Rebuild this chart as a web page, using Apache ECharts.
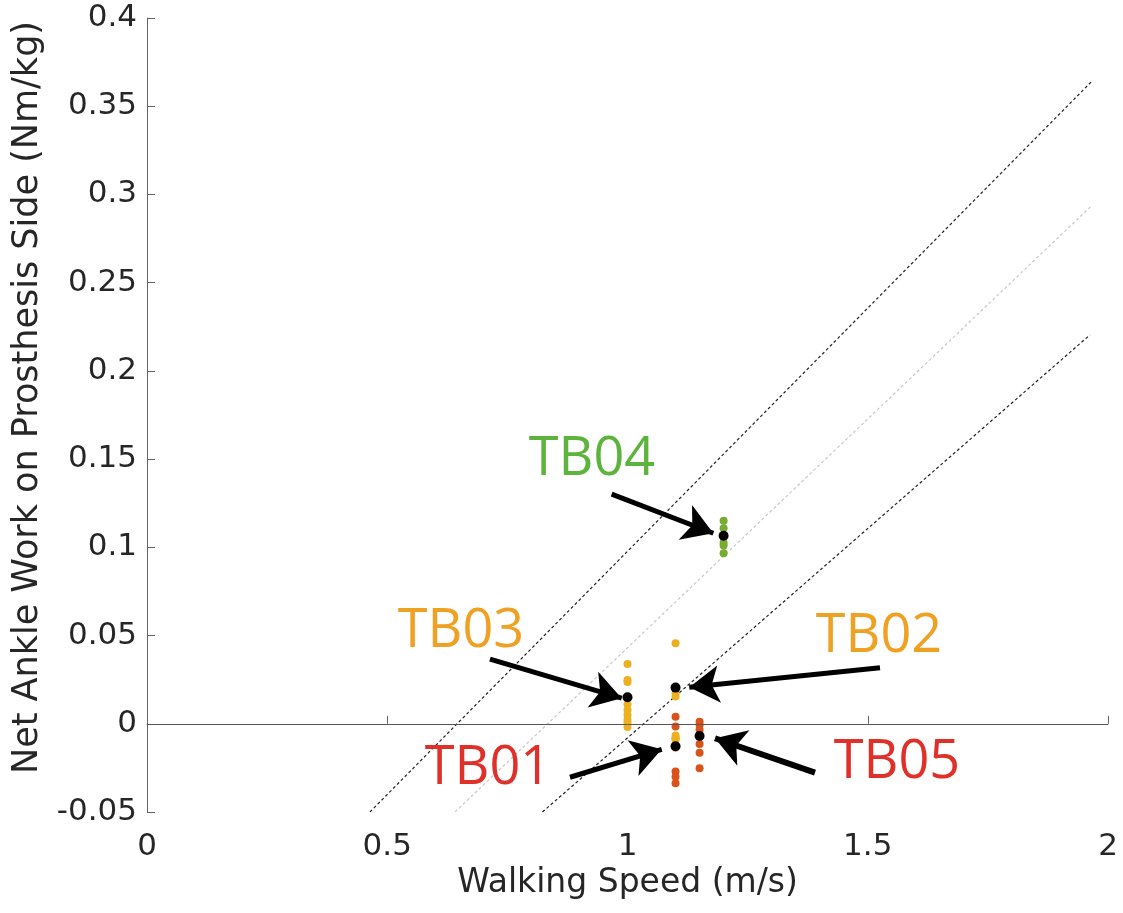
<!DOCTYPE html>
<html>
<head>
<meta charset="utf-8">
<script src="https://cdn.jsdelivr.net/npm/echarts@6/dist/echarts.min.js"></script>
<style>
html,body{margin:0;padding:0;background:#fff;}
#chart{width:1123px;height:913px;}
</style>
</head>
<body>
<div id="chart"></div>
<script>
// ---- data ----
const subjects = ['TB01', 'TB02', 'TB03', 'TB04', 'TB05'];
const speeds = [1.1, 1.1, 1.0, 1.2, 1.15];
const tb01Values = [0.004, -0.0016, -0.0082, -0.0135, -0.0271, -0.0300, -0.0337];
const tb02Values = [0.0456, 0.0175, 0.0154, -0.0066, -0.0090];
const tb03Values = [0.0339, 0.0248, 0.0237, 0.0110, 0.0078, 0.0050, 0.0022, 0.0005, -0.0018];
const tb04Values = [0.1151, 0.1108, 0.1026, 0.1010, 0.0966];
const tb05Values = [0.0012, -0.0007, -0.0035, -0.0114, -0.0164, -0.0252];
const meanValues = [-0.0127, 0.0205, 0.0150, 0.1066, -0.0069];
const upperLine = [[0.464, -0.05], [1.968, 0.3646]];
const middleLine = [[0.641, -0.05], [1.964, 0.2931]];
const lowerLine = [[0.823, -0.05], [1.9625, 0.2204]];
const xTickLabels = ['0', '0.5', '1', '1.5', '2'];
const yTickLabels = ['-0.05', '0', '0.05', '0.1', '0.15', '0.2', '0.25', '0.3', '0.35', '0.4'];
// annotation anchors (data units)
const labelAnchors = [[0.7097, -0.0256], [1.5234, 0.0492], [0.6535, 0.0520], [0.926, 0.1495], [1.5609, -0.0222]];
const arrowStarts = [[0.8803, -0.0303], [1.5255, 0.0318], [0.7138, 0.0366], [0.967, 0.1302], [1.3902, -0.0277]];
const arrowEnds = [[1.0712, -0.0145], [1.1286, 0.0207], [0.9879, 0.0145], [1.1786, 0.1080], [1.1821, -0.0082]];

// ---- styles ----
const dotColors = ['#D95319', '#EDB120', '#EDB120', '#77AC30', '#D95319'];
const labelColors = ['#E0302A', '#EFA124', '#EFA124', '#5DB43C', '#E0302A'];
const arrowWidths = [5, 5, 5, 5, 6];
const groupValues = [tb01Values, tb02Values, tb03Values, tb04Values, tb05Values];
const txt = '#262626';
const axisFont = '"DejaVu Sans", "Liberation Sans", Arial, sans-serif';

const series = [];
function trend(pts, color) {
  series.push({
    type: 'line', data: pts, symbol: 'none', silent: true, z: 1,
    lineStyle: { color: color, width: 1.2, type: [3, 2.5] }
  });
}
trend(upperLine, '#222222');
trend(middleLine, '#c8c8c8');
trend(lowerLine, '#222222');

// zero line
series.push({
  type: 'line', data: [], silent: true, z: 1,
  markLine: {
    silent: true, symbol: 'none', label: { show: false },
    lineStyle: { color: '#555', width: 1, type: 'solid' },
    data: [{ yAxis: 0 }]
  }
});

// colored trial dots
groupValues.forEach((vals, i) => {
  series.push({
    type: 'scatter', name: subjects[i], z: 3,
    symbolSize: 8,
    itemStyle: { color: dotColors[i], opacity: 1 },
    data: vals.map(v => [speeds[i], v])
  });
});

// black means
series.push({
  type: 'scatter', name: 'mean', z: 4, symbolSize: 10,
  itemStyle: { color: '#000', opacity: 1 },
  data: meanValues.map((v, i) => [speeds[i], v])
});

// arrows
series.push({
  type: 'line', data: [], silent: true, z: 5,
  markLine: {
    silent: true, animation: false,
    symbol: ['none', 'arrow'], symbolSize: [28, 30],
    label: { show: false },
    data: arrowStarts.map((s, i) => [
      { coord: s, lineStyle: { color: '#000', width: arrowWidths[i], type: 'solid', opacity: 1 } },
      { coord: arrowEnds[i] }
    ])
  }
});

// subject labels
series.push({
  type: 'scatter', z: 6, symbolSize: 0, silent: true,
  itemStyle: { opacity: 1 },
  data: labelAnchors.map((p, i) => ({
    value: p,
    label: {
      show: true, position: 'inside', formatter: subjects[i],
      color: labelColors[i], fontSize: 54, opacity: 1,
      fontFamily: '"Open Sans", "Noto Sans", sans-serif'
    }
  }))
});

const chart = echarts.init(document.getElementById('chart'));
chart.setOption({
  animation: false,
  backgroundColor: '#fff',
  grid: { left: 147, right: 15, top: 18, bottom: 101, containLabel: false },
  xAxis: {
    type: 'value', min: 0, max: 2, interval: 0.5,
    name: 'Walking Speed (m/s)', nameLocation: 'middle', nameGap: 47,
    nameTextStyle: { color: txt, fontSize: 33, fontFamily: axisFont },
    axisLine: { show: true, lineStyle: { color: '#666', width: 1 } },
    axisTick: { show: true, inside: true, length: 8, lineStyle: { color: '#666' } },
    axisLabel: {
      color: txt, fontSize: 31, fontFamily: axisFont, margin: 19,
      formatter: v => xTickLabels[Math.round(v / 0.5)]
    },
    splitLine: { show: false }
  },
  yAxis: {
    type: 'value', min: -0.05, max: 0.4, interval: 0.05,
    name: 'Net Ankle Work on Prosthesis Side (Nm/kg)', nameLocation: 'middle', nameGap: 101,
    nameTextStyle: { color: txt, fontSize: 35, fontFamily: axisFont, padding: [0, 0, 0, 35] },
    axisLine: { show: true, lineStyle: { color: '#666', width: 1 } },
    axisTick: { show: true, inside: true, length: 8, lineStyle: { color: '#666' } },
    axisLabel: {
      color: txt, fontSize: 31, fontFamily: axisFont, margin: 10,
      formatter: v => yTickLabels[Math.round((v + 0.05) / 0.05)]
    },
    splitLine: { show: false }
  },
  series: series
});
</script>
</body>
</html>
